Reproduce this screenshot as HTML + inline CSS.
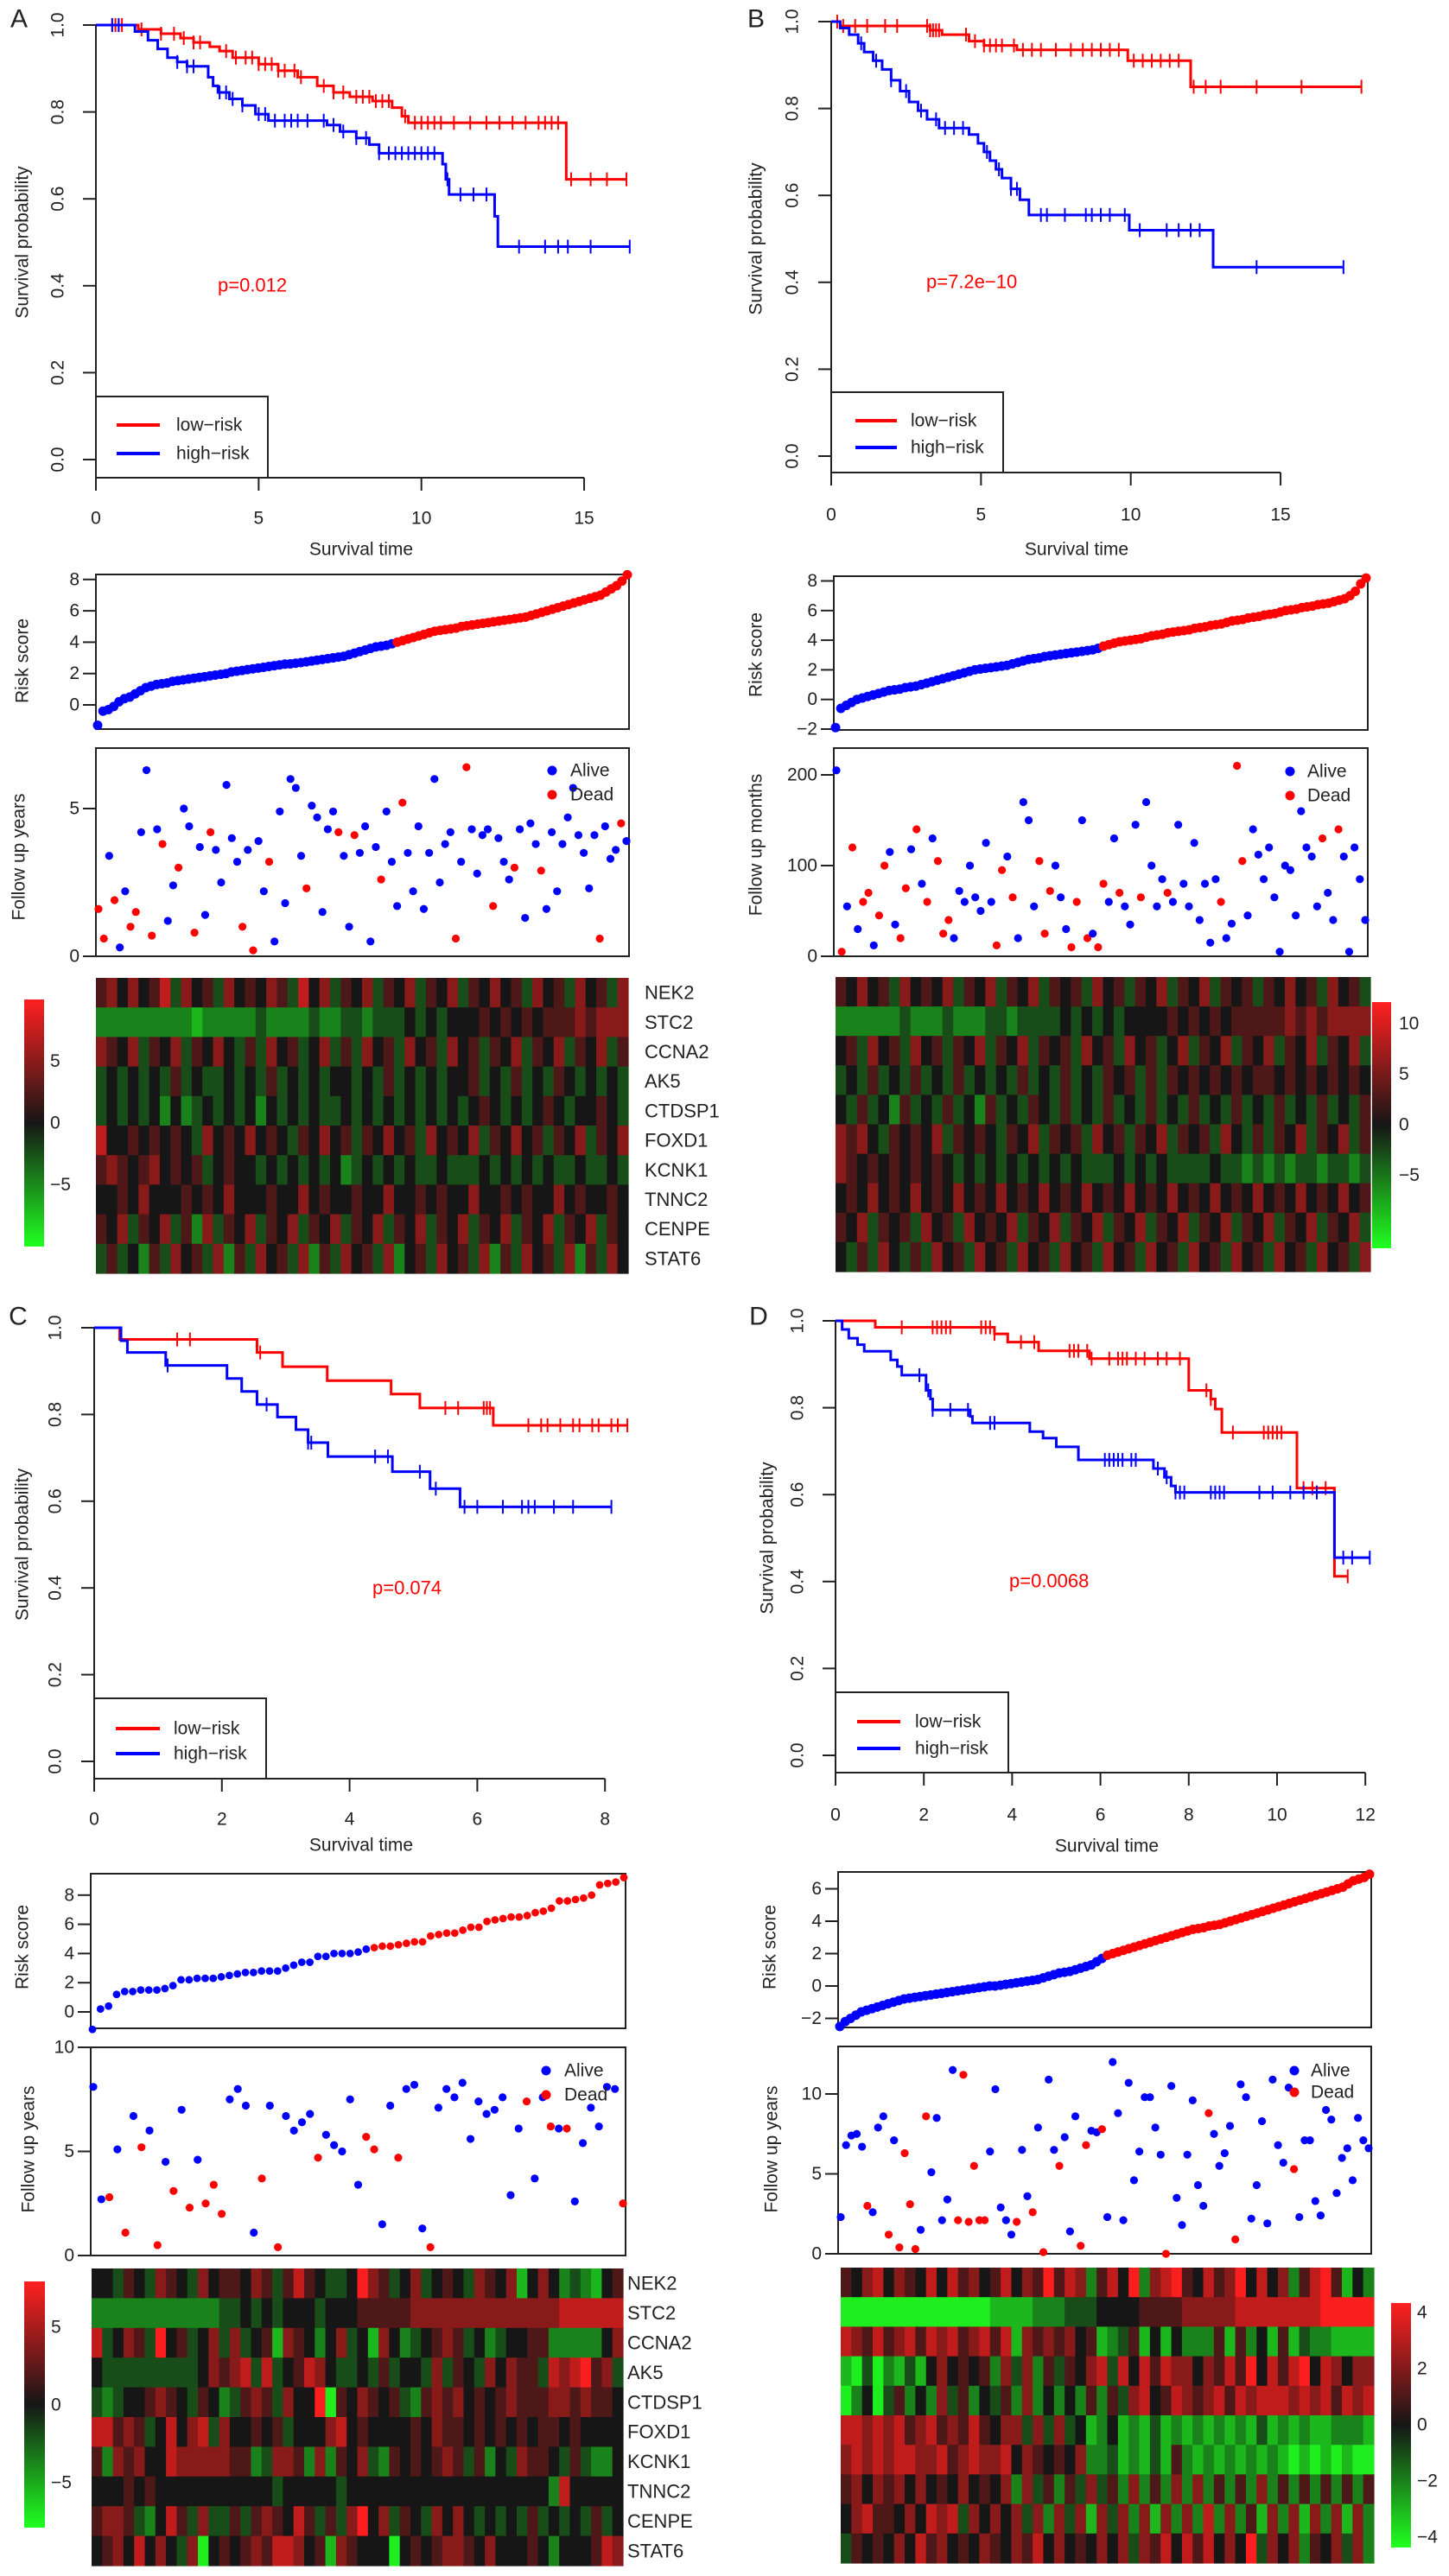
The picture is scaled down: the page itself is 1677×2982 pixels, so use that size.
<!DOCTYPE html>
<html><head><meta charset="utf-8"><title>Risk model survival figure</title>
<style>
html,body{margin:0;padding:0;background:#fff;}
svg{display:block;font-family:"Liberation Sans",Arial,sans-serif;}
</style></head>
<body>
<svg id="fig" xmlns="http://www.w3.org/2000/svg" width="1677" height="2982" viewBox="0 0 1677 2982">
<rect x="0" y="0" width="1677" height="2982" fill="#fff"/>
</svg>
<script>
// ================= DATA =================
const kmA_low_t=[1.3,2.0,2.6,3.0,3.5,3.8,4.2,5.0,5.6,6.2,6.8,7.3,7.8,8.5,9.1,9.4,9.6,14.45];
const kmA_low_s=[0.99,0.98,0.97,0.96,0.95,0.94,0.925,0.91,0.895,0.88,0.86,0.845,0.835,0.825,0.81,0.79,0.775,0.645];
const kmA_low_c=[0.5,0.6,0.7,0.8,1.4,2.0,2.4,2.7,3.0,3.2,4.0,4.3,4.6,4.8,5.0,5.2,5.4,5.6,5.8,6.1,6.3,7.0,7.3,7.6,8.0,8.2,8.4,8.6,8.8,9.0,9.5,9.8,10.0,10.2,10.4,10.6,11.0,11.5,12.0,12.4,12.8,13.2,13.6,13.8,14.0,14.2,14.6,15.2,15.7,16.3];
const kmA_high_t=[1.2,1.6,1.9,2.2,2.5,2.8,3.45,3.6,3.75,4.1,4.5,4.9,5.3,7.1,7.5,8.0,8.4,8.7,10.65,10.75,10.85,12.25,12.35];
const kmA_high_s=[0.985,0.965,0.945,0.925,0.915,0.905,0.88,0.86,0.845,0.83,0.815,0.795,0.78,0.77,0.755,0.74,0.725,0.705,0.68,0.645,0.61,0.56,0.49];
const kmA_high_c=[0.5,0.7,2.5,2.8,3.0,3.8,4.0,4.2,4.5,5.0,5.2,5.5,5.8,6.0,6.2,6.5,7.0,7.3,7.6,8.0,8.3,8.7,9.0,9.2,9.4,9.6,9.8,10.0,10.2,10.4,10.8,11.2,11.6,12.0,13.0,13.8,14.2,14.5,15.2,16.4];

const kmB_low_t=[0.3,3.3,3.7,4.6,5.1,6.2,9.9,12.0];
const kmB_low_s=[0.99,0.98,0.97,0.955,0.945,0.935,0.91,0.85];
const kmB_low_c=[0.2,0.4,0.8,1.2,1.8,2.2,3.2,3.3,3.4,3.5,3.6,4.5,4.8,5.1,5.3,5.5,5.7,6.1,6.4,6.7,7.0,7.5,8.0,8.4,8.7,9.0,9.3,9.6,10.1,10.4,10.7,11.0,11.3,11.6,12.1,12.5,13.0,14.2,15.7,17.7];
const kmB_high_t=[0.3,0.6,0.9,1.1,1.4,1.7,2.0,2.3,2.6,2.9,3.2,3.6,4.6,4.9,5.1,5.3,5.5,5.7,6.0,6.3,6.6,9.95,12.75];
const kmB_high_s=[0.985,0.97,0.95,0.93,0.91,0.89,0.865,0.84,0.815,0.795,0.775,0.755,0.74,0.72,0.70,0.68,0.66,0.64,0.615,0.59,0.555,0.52,0.435];
const kmB_high_c=[1.0,1.5,2.0,2.5,3.0,3.5,3.8,4.1,4.4,5.2,5.6,6.0,6.2,7.0,7.2,7.8,8.5,8.7,9.0,9.3,9.8,10.3,11.2,11.6,12.0,12.3,14.2,17.1];

const kmC_low_t=[0.4,2.55,2.95,3.65,4.65,5.1,6.25];
const kmC_low_s=[0.973,0.943,0.91,0.878,0.847,0.815,0.775];
const kmC_low_c=[1.3,1.5,2.6,5.5,5.7,6.1,6.15,6.2,6.8,7.0,7.1,7.3,7.5,7.6,7.8,7.9,8.1,8.2,8.35];
const kmC_high_t=[0.42,0.52,1.12,2.08,2.31,2.55,2.87,3.16,3.35,3.66,4.67,5.26,5.73];
const kmC_high_s=[0.97,0.943,0.913,0.883,0.853,0.823,0.794,0.765,0.735,0.703,0.668,0.629,0.587];
const kmC_high_c=[1.15,2.7,3.35,3.4,4.4,4.6,5.1,5.35,5.8,6.0,6.4,6.7,6.8,6.9,7.2,7.5,8.1];

const kmD_low_t=[0.9,3.6,3.9,4.6,5.75,8.0,8.5,8.6,8.75,10.45,11.3];
const kmD_low_s=[0.985,0.97,0.951,0.931,0.913,0.84,0.82,0.797,0.743,0.615,0.412];
const kmD_low_c=[1.5,2.2,2.3,2.4,2.5,2.6,3.3,3.4,3.5,3.6,4.2,4.5,5.3,5.4,5.5,5.7,5.8,6.2,6.4,6.5,6.6,6.8,7.0,7.3,7.5,7.8,8.4,8.5,9.0,9.7,9.8,9.9,10.0,10.1,10.6,10.8,11.1,11.6];
const kmD_high_t=[0.15,0.3,0.5,0.65,1.25,1.4,1.5,2.05,2.15,2.2,3.05,3.1,4.4,4.7,5.0,5.5,7.2,7.45,7.6,7.7,11.3];
const kmD_high_s=[0.98,0.96,0.945,0.93,0.91,0.895,0.875,0.84,0.82,0.795,0.78,0.765,0.745,0.73,0.71,0.68,0.66,0.64,0.62,0.605,0.455];
const kmD_high_c=[1.9,2.1,2.2,2.6,3.0,3.5,3.6,6.1,6.2,6.3,6.4,6.5,6.7,6.8,7.3,7.5,7.7,7.8,7.9,8.5,8.6,8.7,8.8,9.6,9.9,10.3,10.6,10.9,11.5,11.7,12.1];

const pValues=["p=0.012","p=7.2e\u221210","p=0.074","p=0.0068"];

const riskA=[-1.3,-0.4,-0.3,-0.1,0.2,0.4,0.5,0.7,0.9,1.1,1.2,1.3,1.35,1.4,1.5,1.55,1.6,1.65,1.7,1.75,1.8,1.85,1.9,1.95,2.0,2.1,2.15,2.2,2.25,2.3,2.35,2.4,2.45,2.5,2.55,2.6,2.62,2.66,2.7,2.75,2.8,2.85,2.9,2.95,3.0,3.05,3.1,3.2,3.3,3.4,3.5,3.6,3.7,3.75,3.8,3.9,4.0,4.1,4.2,4.3,4.4,4.5,4.6,4.7,4.75,4.8,4.85,4.9,5.0,5.05,5.1,5.15,5.2,5.25,5.3,5.35,5.4,5.45,5.5,5.55,5.6,5.7,5.8,5.9,6.0,6.1,6.2,6.3,6.4,6.5,6.6,6.7,6.8,6.9,7.0,7.2,7.4,7.6,7.9,8.3];
const riskB=[-1.9,-0.6,-0.4,-0.2,0.0,0.1,0.2,0.3,0.4,0.5,0.6,0.65,0.7,0.8,0.85,0.9,1.0,1.1,1.2,1.3,1.4,1.5,1.6,1.7,1.8,1.9,2.0,2.05,2.1,2.15,2.2,2.25,2.3,2.4,2.5,2.6,2.7,2.75,2.8,2.9,2.95,3.0,3.05,3.1,3.15,3.2,3.25,3.3,3.35,3.45,3.6,3.7,3.8,3.9,3.95,4.0,4.05,4.1,4.2,4.3,4.35,4.4,4.5,4.55,4.6,4.65,4.7,4.8,4.85,4.9,5.0,5.05,5.1,5.2,5.3,5.35,5.4,5.5,5.55,5.6,5.7,5.75,5.8,5.9,6.0,6.05,6.1,6.2,6.25,6.3,6.4,6.45,6.5,6.6,6.7,6.8,7.0,7.3,7.8,8.2];
const riskC=[-1.2,0.2,0.4,1.2,1.4,1.4,1.5,1.5,1.5,1.6,1.8,2.2,2.2,2.3,2.3,2.3,2.4,2.5,2.6,2.7,2.7,2.8,2.8,2.8,3.0,3.2,3.4,3.4,3.8,3.8,4.0,4.0,4.0,4.1,4.3,4.4,4.5,4.5,4.6,4.7,4.8,4.8,5.2,5.3,5.4,5.4,5.6,5.8,5.8,6.2,6.3,6.4,6.5,6.5,6.6,6.8,6.9,7.1,7.6,7.6,7.7,7.8,8.0,8.7,8.8,8.9,9.2];
const riskD=[-2.5,-2.2,-2.0,-1.8,-1.6,-1.5,-1.4,-1.3,-1.2,-1.1,-1.0,-0.9,-0.8,-0.75,-0.7,-0.65,-0.6,-0.55,-0.5,-0.45,-0.4,-0.35,-0.3,-0.25,-0.2,-0.15,-0.1,-0.05,0.0,0.0,0.05,0.1,0.15,0.2,0.25,0.3,0.35,0.4,0.5,0.6,0.7,0.8,0.85,0.9,1.0,1.1,1.2,1.3,1.5,1.7,1.9,2.0,2.1,2.2,2.3,2.4,2.5,2.6,2.7,2.8,2.9,3.0,3.1,3.2,3.3,3.4,3.5,3.55,3.6,3.7,3.75,3.8,3.9,4.0,4.1,4.2,4.3,4.4,4.5,4.6,4.7,4.8,4.9,5.0,5.1,5.2,5.3,5.4,5.5,5.6,5.7,5.8,5.9,6.0,6.1,6.3,6.5,6.6,6.7,6.9];
const riskCutoffs=[3.95,3.5,4.35,1.85];

const fuA=[1.6,0.6,3.4,1.9,0.3,2.2,1.0,1.5,4.2,6.3,0.7,4.3,3.8,1.2,2.4,3.0,5.0,4.4,0.8,3.7,1.4,4.2,3.6,2.5,5.8,4.0,3.2,1.0,3.6,0.2,3.9,2.2,3.2,0.5,4.9,1.8,6.0,5.7,3.4,2.3,5.1,4.7,1.5,4.3,4.9,4.2,3.4,1.0,4.1,3.5,4.4,0.5,3.7,2.6,4.9,3.2,1.7,5.2,3.5,2.2,4.4,1.6,3.5,6.0,2.5,3.8,4.2,0.6,3.2,6.4,4.3,2.8,4.1,4.3,1.7,4.0,3.2,2.6,3.0,4.3,1.3,4.5,3.8,2.9,1.6,4.2,2.2,3.8,4.7,5.7,4.1,3.5,2.3,4.1,0.6,4.4,3.3,3.6,4.5,3.9];
const stA="1101001100101001001001000001010010000001000001001000010001000000000101000010001000010000000000100010001000";
const fuB=[205,5,55,120,30,60,70,12,45,100,115,35,20,75,118,140,80,60,130,105,25,40,20,72,60,100,65,50,125,60,12,95,110,65,20,170,150,55,105,25,72,100,65,30,10,60,150,20,25,10,80,60,130,70,55,35,145,65,170,100,55,85,70,60,145,80,55,125,40,80,15,85,60,20,36,210,105,45,140,112,85,120,65,5,100,95,45,160,120,110,55,130,70,40,140,110,5,120,85,40];
const stB="0101011011001101010111000000001101000011100011010110010001000010000000001001100000000000000100100000";
const fuC=[8.1,2.7,2.8,5.1,1.1,6.7,5.2,6.0,0.5,4.5,3.1,7.0,2.3,4.6,2.5,3.4,2.0,7.5,8.0,7.2,1.1,3.7,7.2,0.4,6.7,6.0,6.4,6.8,4.7,5.8,5.3,5.0,7.5,3.4,5.7,5.1,1.5,7.2,4.7,8.0,8.2,1.3,0.4,7.1,8.0,7.6,8.3,5.6,7.4,6.8,7.0,7.6,2.9,6.1,7.4,3.7,7.6,6.2,6.1,6.1,2.6,5.4,7.1,6.2,8.1,8.0,2.5];
const stC="0010101010101011100001010000100000110010001000000000001001010000001";
const fuD=[2.3,6.8,7.4,7.5,6.7,3.0,2.6,7.9,8.6,1.2,7.1,0.4,6.3,3.1,0.3,1.5,8.6,5.1,8.5,2.1,3.4,11.5,2.1,11.2,2.0,5.5,2.1,2.1,6.4,10.3,2.9,2.1,1.2,2.0,6.5,3.6,2.6,7.9,0.1,10.9,6.5,5.5,7.3,1.4,8.6,0.5,6.8,7.7,7.6,7.8,2.3,12.0,8.8,2.1,10.7,4.6,6.4,9.8,9.8,7.9,6.2,0.0,10.5,3.5,1.8,6.2,9.6,4.3,3.0,8.8,7.5,5.5,6.3,8.0,0.9,10.6,9.8,2.2,4.3,8.3,1.9,10.9,6.8,5.7,10.4,5.3,2.3,7.1,7.1,3.3,2.4,9.0,8.4,3.8,6.0,6.6,4.6,8.5,7.1,6.6];
const stD="0000010001011110100000111111000001001010010001100100000000000100000001000010000000000100000000000000";

const genes=["NEK2","STC2","CCNA2","AK5","CTDSP1","FOXD1","KCNK1","TNNC2","CENPE","STAT6"];
const heatA=["67575684756475657648574657465746574657564756475647","33333333323333343333433443444545455565656566676777","76574657465754647564574647564756475646574657465746","45454546454454546454545545464545455645464546545454","45454535345454535454544545454545454565454565455654","85565656547565756546575646575647565746575646574657","67656756564565545454545345454544544454545454454454","55657555656575556557565565575565655755656557565565","65746574637465746574657465746574657465746574657465","46453647564736475647364756473564756473647564736475"];
const heatB=["65756475657465746574656475646574657465646575647564","33333343334333443444454545455556565656666676767777","56475647564657465746564756475645746574657465746574","45464546454645454645464546564646565656566565656565","54645364546453645465464546454645464546454645464546","76754656574656546574656475646574656475464657465746","76565656565454545454545444545454444544343434434434","56575657565756575657565756575657565756575657565756","65746564756475657465746574657465746574657465746574","54647546475647564756475647564756475647564756475647"];
const heatC=["55465476547566576468654459764574565476572575343256","33333333333344545455545556666677777777777777888888","84576495645747456276535745275345676453455663333357","54444444445767848456875445464554746547576648789674","43455676546534676475591657656436767565676667767665","88676458578475565645557856555565766565656566565555","63767558777776634776373657436565676463547665464335","55565655555555555455555455555555555555555553855555","67764358647446467658646479574654757545454645454645","56758575471565676887562765551565677657555653555687"];
const heatD=["65785765858675685769687368593789658679585736896253","11111111111111222233344455556666777778888888899999","87686786878678682767675623462525333626352624332222","21413242575656374736465784858687757686958689587577","13514635374635463735353636478568767868788878786878","88787867867686577474745235232423232323242323223332","78787887786787785765657334232426323232323212121211","67576757565756573746364746373637373636373636363636","57866575878475757473747274737273738373627372737273","46565758675657657685756575747685868575947573657473"];

const kmYTicks=[0,0.2,0.4,0.6,0.8,1.0];
const kmXTicksA=[0,5,10,15], kmXTicksB=[0,5,10,15], kmXTicksC=[0,2,4,6,8], kmXTicksD=[0,2,4,6,8,10,12];
const riskTicksA=[0,2,4,6,8], riskTicksB=[-2,0,2,4,6,8], riskTicksC=[0,2,4,6,8], riskTicksD=[-2,0,2,4,6];
const fuTicksA=[0,5], fuTicksB=[0,100,200], fuTicksC=[0,5,10], fuTicksD=[0,5,10];
const barTicksA=[5,0,-5], barTicksB=[10,5,0,-5], barTicksC=[5,0,-5], barTicksD=[4,2,0,-2,-4];

// ================= DRAWING =================
const NS='http://www.w3.org/2000/svg';
const svg=document.getElementById('fig');
const RED='#ff0000', BLUE='#0000ff', INK='#222';
function mk(tag,attrs,parent){const e=document.createElementNS(NS,tag);for(const k in attrs)e.setAttribute(k,attrs[k]);(parent||svg).appendChild(e);return e;}
function txt(str,x,y,attrs,parent){const e=mk('text',Object.assign({x:x,y:y,'dominant-baseline':'central','font-size':21,fill:INK},attrs||{}),parent);e.textContent=str;return e;}
function fmt(v){return v<0?'\u2212'+Math.abs(v):String(v);}
function survAt(ts,ss,t){let s=1;for(let i=0;i<ts.length;i++){if(ts[i]<=t)s=ss[i];}return s;}

function drawKM(P,low,high,xt,pTxt){
  const g=mk('g',{});
  
  
  const X=t=>P.x0+t*P.pxu, Y=s=>P.y0-(P.y0-P.y1)*s;
  const L=txt(P.id.toUpperCase(),P.lx,P.ly,{'font-size':30,'text-anchor':'middle'},g);
  
  
  const ya=mk('line',{x1:P.x0,x2:P.x0,y1:Y(1),y2:P.axisY,stroke:INK,'stroke-width':2},g);
  
  
  kmYTicks.forEach(v=>{
    mk('line',{x1:P.x0-15,x2:P.x0,y1:Y(v),y2:Y(v),stroke:INK,'stroke-width':2},g);
    const t=txt(v.toFixed(1),P.yl,Y(v),{'text-anchor':'middle',transform:`rotate(-90 ${P.yl} ${Y(v)})`},g);
    
    
  });
  const yt=txt('Survival probability',P.yt,(Y(0)+Y(1))/2,{'text-anchor':'middle',transform:`rotate(-90 ${P.yt} ${(Y(0)+Y(1))/2})`},g);
  
  
  const xa=mk('line',{x1:X(0),x2:X(xt[xt.length-1]),y1:P.axisY,y2:P.axisY,stroke:INK,'stroke-width':2},g);
  
  
  xt.forEach(v=>{
    mk('line',{x1:X(v),x2:X(v),y1:P.axisY,y2:P.axisY+15,stroke:INK,'stroke-width':2},g);
    const t=txt(String(v),X(v),P.tly,{'text-anchor':'middle'},g);
    
    
  });
  const xtt=txt('Survival time',P.stx,P.sty,{'text-anchor':'middle'},g);
  
  
  [[low,RED,'low-risk'],[high,BLUE,'high-risk']].forEach(([d,col,nm])=>{
    const ts=d[0],ss=d[1],cs=d[2];
    const tEnd=Math.max(ts[ts.length-1],cs.length?Math.max.apply(null,cs):0);
    let path=`M${X(0)},${Y(1)}`;
    ts.forEach((t,i)=>{path+=` H${X(t)} V${Y(ss[i])}`;});
    path+=` H${X(tEnd)}`;
    const p=mk('path',{d:path,fill:'none',stroke:col,'stroke-width':3},g);
    
    
    cs.forEach(c=>{
      const s=survAt(ts,ss,c);
      const m=mk('line',{x1:X(c),x2:X(c),y1:Y(s)-8,y2:Y(s)+8,stroke:col,'stroke-width':2},g);
      
      
    });
  });
  const pv=txt(pTxt,P.px,P.py,{fill:RED,'font-size':22},g);
  
  
  const lg=mk('g',{},g);
  
  
  mk('rect',{x:P.x0,y:P.lgy,width:P.lgw,height:P.axisY-P.lgy,fill:'#fff',stroke:INK,'stroke-width':2},lg);
  const e1=mk('line',{x1:P.l1,x2:P.l2,y1:P.ry,y2:P.ry,stroke:RED,'stroke-width':4},lg);
  
  
  txt('low\u2212risk',P.ltx,P.ry,{},lg);
  const e2=mk('line',{x1:P.l1,x2:P.l2,y1:P.by,y2:P.by,stroke:BLUE,'stroke-width':4},lg);
  
  
  txt('high\u2212risk',P.ltx,P.by,{},lg);
}

function boxAxisY(g,B,ticks,title){
  mk('rect',{x:B.x,y:B.y,width:B.w,height:B.h,fill:'none',stroke:INK,'stroke-width':2},g);
  ticks.forEach(v=>{
    const y=B.zeroY-v*B.ppu;
    mk('line',{x1:B.x-15,x2:B.x,y1:y,y2:y,stroke:INK,'stroke-width':2},g);
    const t=txt(fmt(v),B.x-19,y,{'text-anchor':'end'},g);
    
    
  });
  const tt=txt(title,B.tx,B.ty,{'text-anchor':'middle',transform:`rotate(-90 ${B.tx} ${B.ty})`},g);
  
  
}

function drawRisk(B,vals,cut,ticks){
  const g=mk('g',{});
  
  
  boxAxisY(g,B,ticks,'Risk score');
  const n=vals.length;
  vals.forEach((v,i)=>{
    const c=mk('circle',{cx:B.x+2+i*(B.w-4)/(n-1),cy:B.zeroY-v*B.ppu,r:B.r,fill:v>=cut?RED:BLUE},g);
    
    
  });
}

function drawFollow(B,vals,st,ticks,title){
  const g=mk('g',{});
  
  
  boxAxisY(g,B,ticks,title);
  const n=vals.length;
  vals.forEach((v,i)=>{
    const c=mk('circle',{cx:B.x+3+i*(B.w-6)/(n-1),cy:B.zeroY-v*B.ppu,r:4.6,fill:st[i]==='1'?RED:BLUE},g);
    
    
  });
  const a=mk('circle',{cx:B.lx,cy:B.ay,r:5.5,fill:BLUE},g);
  
  
  txt('Alive',B.ltx,B.ay,{},g);
  const d=mk('circle',{cx:B.lx,cy:B.dy,r:5.5,fill:RED},g);
  
  
  txt('Dead',B.ltx,B.dy,{},g);
}

function colorOf(ch){
  let t=(parseInt(ch,10)-5)/4; t=Math.max(-1,Math.min(1,t));
  if(t>=0) return `rgb(${Math.round(22+228*t)},${Math.round(22+8*t)},${Math.round(22+8*t)})`;
  const a=-t; return `rgb(${Math.round(22+8*a)},${Math.round(22+215*a)},${Math.round(22+8*a)})`;
}

function drawHeat(H,rows,barTicks){
  const g=mk('g',{});
  
  
  const nr=rows.length, nc=rows[0].length, cw=H.w/nc, rh=H.h/nr;
  rows.forEach((row,r)=>{
    for(let c=0;c<nc;c++){
      const cell=mk('rect',{x:H.x+c*cw,y:H.y+r*rh,width:cw+0.6,height:rh+0.6,fill:colorOf(row[c])},g);
      
      
    }
    if(H.gx){
      const t=txt(genes[r],H.gx,H.y+(r+0.5)*rh,{'font-size':22},g);
      
      
    }
  });
  const gid='grad'+H.id;
  const defs=mk('defs',{},g);
  const lg=mk('linearGradient',{id:gid,x1:0,y1:0,x2:0,y2:1},defs);
  mk('stop',{offset:'0','stop-color':'#ff2020'},lg);
  mk('stop',{offset:'0.5','stop-color':'#161616'},lg);
  mk('stop',{offset:'1','stop-color':'#20ff20'},lg);
  const bar=mk('rect',{x:H.bx,y:H.by,width:H.bw,height:H.bh,fill:`url(#${gid})`},g);
  
  
  barTicks.forEach(v=>{
    const t=txt(fmt(v),H.blx,H.bz-v*H.bppu,{},g);
    
    
  });
}

const KM={
 a:{id:'a',x0:111,pxu:37.67,y1:29,y0:532,axisY:553,lx:22,ly:22,yl:67,yt:26,tly:600,stx:418,sty:636,px:252,py:330,lgy:459,lgw:199,ry:492,by:525,l1:135,l2:185,ltx:204},
 b:{id:'b',x0:962,pxu:34.67,y1:25,y0:528,axisY:547,lx:875,ly:22,yl:917,yt:875,tly:596,stx:1246,sty:636,px:1072,py:326,lgy:454,lgw:199,ry:487,by:518,l1:990,l2:1038,ltx:1054},
 c:{id:'c',x0:109,pxu:73.9,y1:1537,y0:2039,axisY:2059,lx:21,ly:1524,yl:64,yt:26,tly:2106,stx:418,sty:2136,px:431,py:1838,lgy:1966,lgw:199,ry:2001,by:2030,l1:134,l2:185,ltx:201},
 d:{id:'d',x0:967,pxu:51.1,y1:1529,y0:2032,axisY:2052,lx:878,ly:1524,yl:923,yt:888,tly:2101,stx:1281,sty:2137,px:1168,py:1830,lgy:1959,lgw:200,ry:1993,by:2024,l1:992,l2:1042,ltx:1059}
};
const RK={
 a:{id:'a',x:111,y:665,w:617,h:179,zeroY:816,ppu:18.15,tx:26,ty:765,r:5.5},
 b:{id:'b',x:965,y:667,w:618,h:178,zeroY:809.7,ppu:17.15,tx:875,ty:758,r:5.5},
 c:{id:'c',x:105,y:2169,w:619,h:179,zeroY:2329,ppu:16.9,tx:26,ty:2254,r:4.4},
 d:{id:'d',x:970,y:2167,w:617,h:180,zeroY:2299,ppu:18.75,tx:891,ty:2254,r:5.5}
};
const FU={
 a:{id:'a',x:111,y:866,w:617,h:241,zeroY:1107,ppu:34.2,tx:22,ty:992,lx:639,ay:892,dy:920,ltx:660},
 b:{id:'b',x:965,y:866,w:618,h:241,zeroY:1107,ppu:1.05,tx:875,ty:978,lx:1493,ay:893,dy:921,ltx:1513},
 c:{id:'c',x:105,y:2370,w:619,h:241,zeroY:2611,ppu:24.1,tx:33,ty:2488,lx:632,ay:2397,dy:2425,ltx:653},
 d:{id:'d',x:970,y:2369,w:617,h:240,zeroY:2609,ppu:18.5,tx:893,ty:2488,lx:1498,ay:2397,dy:2422,ltx:1517}
};
const HM={
 a:{id:'a',x:111,y:1132,w:616,h:342,gx:746,bx:28,by:1157,bw:23,bh:286,bz:1300,bppu:14.3,blx:58},
 b:{id:'b',x:967,y:1131,w:619,h:341,gx:0,bx:1588,by:1160,bw:22,bh:285,bz:1302,bppu:11.7,blx:1619},
 c:{id:'c',x:106,y:2626,w:615,h:344,gx:726,bx:28,by:2641,bw:24,bh:285,bz:2784,bppu:18,blx:59},
 d:{id:'d',x:973,y:2625,w:617,h:342,gx:0,bx:1610,by:2666,bw:23,bh:283,bz:2807,bppu:32.5,blx:1640}
};

drawKM(KM.a,[kmA_low_t,kmA_low_s,kmA_low_c],[kmA_high_t,kmA_high_s,kmA_high_c],kmXTicksA,pValues[0]);
drawKM(KM.b,[kmB_low_t,kmB_low_s,kmB_low_c],[kmB_high_t,kmB_high_s,kmB_high_c],kmXTicksB,pValues[1]);
drawKM(KM.c,[kmC_low_t,kmC_low_s,kmC_low_c],[kmC_high_t,kmC_high_s,kmC_high_c],kmXTicksC,pValues[2]);
drawKM(KM.d,[kmD_low_t,kmD_low_s,kmD_low_c],[kmD_high_t,kmD_high_s,kmD_high_c],kmXTicksD,pValues[3]);

drawRisk(RK.a,riskA,riskCutoffs[0],riskTicksA);
drawRisk(RK.b,riskB,riskCutoffs[1],riskTicksB);
drawRisk(RK.c,riskC,riskCutoffs[2],riskTicksC);
drawRisk(RK.d,riskD,riskCutoffs[3],riskTicksD);

drawFollow(FU.a,fuA,stA,fuTicksA,'Follow up years');
drawFollow(FU.b,fuB,stB,fuTicksB,'Follow up months');
drawFollow(FU.c,fuC,stC,fuTicksC,'Follow up years');
drawFollow(FU.d,fuD,stD,fuTicksD,'Follow up years');

drawHeat(HM.a,heatA,barTicksA);
drawHeat(HM.b,heatB,barTicksB);
drawHeat(HM.c,heatC,barTicksC);
drawHeat(HM.d,heatD,barTicksD);
</script>
</body></html>
